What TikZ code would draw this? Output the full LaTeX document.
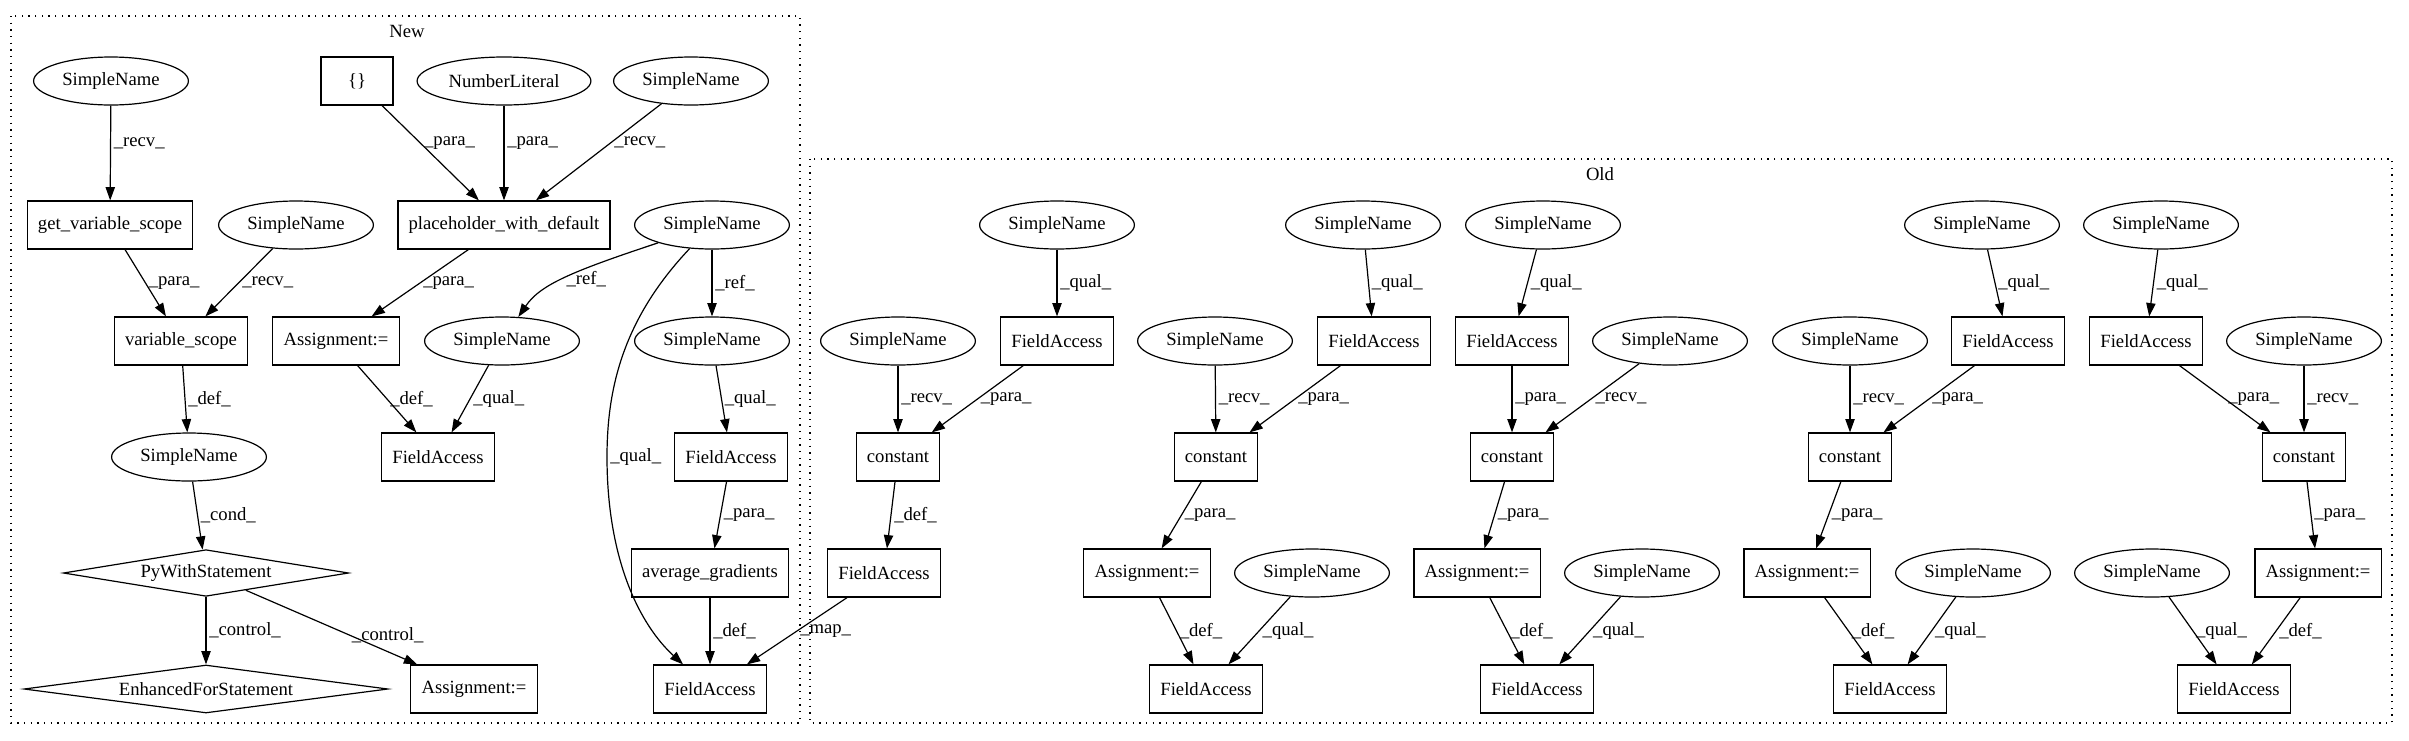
\documentclass[tikz,border=0pt]{standalone}
\usepackage{fontspec}
\setmainfont{Liberation Serif}
\usetikzlibrary{shapes.geometric,arrows.meta}

\begin{document}
\begin{tikzpicture}[x=0.75pt,y=-0.75pt,
    font=\fontsize{14}{16}\selectfont,
    box/.style={draw,rectangle,line width=0.9pt,minimum height=36pt,minimum width=54pt,inner xsep=8pt},
    ell/.style={draw,ellipse,line width=0.9pt,minimum height=36pt,inner xsep=4.5pt,inner ysep=2pt},
    stmt/.style={draw,diamond,line width=0.9pt,inner sep=0pt},
    conn/.style={-{Triangle[length=10pt,width=7pt]},line width=0.9pt},
    lbl/.style={midway,anchor=west,inner sep=2pt},
    cluster/.style={line width=0.9pt,dash pattern=on 1pt off 4pt}]

    \useasboundingbox (0,0) rectangle (2409,740);

    \draw[cluster] (11,16) rectangle (800,723);
    \node (lblNew) at (407,31) {New};
    \draw[cluster] (810,159) rectangle (2392,723);
    \node (lblOld) at (1600,174) {Old};

    \node[ell] (snGvs) at (111,81) {SimpleName};
    \node[box] (brace) at (357,81) {\{\}};
    \node[ell] (numLit) at (504,81) {NumberLiteral};
    \node[ell] (snPwd) at (691,81) {SimpleName};
    \node[box] (gvs) at (110,225) {get\_variable\_scope};
    \node[ell] (snVs) at (296,225) {SimpleName};
    \node[box] (pwd) at (504,225) {placeholder\_with\_default};
    \node[ell] (snRef) at (712,225) {SimpleName};
    \node[box] (vs) at (181,341) {variable\_scope};
    \node[box] (asgN) at (336,341) {Assignment:=};
    \node[ell] (snQa) at (502,341) {SimpleName};
    \node[ell] (snQb) at (712,341) {SimpleName};
    \node[ell] (snCond) at (189,457) {SimpleName};
    \node[box] (faN) at (438,457) {FieldAccess};
    \node[box] (faAvg) at (731,457) {FieldAccess};
    \node[stmt,aspect=6,minimum width=214pt,minimum height=35pt] (withSt) at (206,573) {PyWithStatement};
    \node[box] (avg) at (710,573) {average\_gradients};
    \node[stmt,aspect=7.6,minimum width=273pt,minimum height=36pt] (forSt) at (206,689) {EnhancedForStatement};
    \node[box] (asgCtl) at (474,689) {Assignment:=};
    \node[box] (faOut) at (710,689) {FieldAccess};

    \node[ell] (snTopA) at (1057,225) {SimpleName};
    \node[box] (faA) at (1057,341) {FieldAccess};
    \node[ell] (snRecvA) at (898,341) {SimpleName};
    \node[box] (constA) at (898,457) {constant};
    \node[box] (faDefA) at (884,573) {FieldAccess};

    \node[ell] (snTopB) at (1363,225) {SimpleName};
    \node[box] (faB) at (1374,341) {FieldAccess};
    \node[ell] (snRecvB) at (1215,341) {SimpleName};
    \node[box] (constB) at (1216,457) {constant};
    \node[box] (asgB) at (1147,573) {Assignment:=};
    \node[ell] (snQualB) at (1312,573) {SimpleName};
    \node[box] (faOutB) at (1206,689) {FieldAccess};

    \node[ell] (snTopC) at (1543,225) {SimpleName};
    \node[box] (faC) at (1512,341) {FieldAccess};
    \node[ell] (snRecvC) at (1670,341) {SimpleName};
    \node[box] (constC) at (1512,457) {constant};
    \node[box] (asgC) at (1477,573) {Assignment:=};
    \node[ell] (snQualC) at (1642,573) {SimpleName};
    \node[box] (faOutC) at (1537,689) {FieldAccess};

    \node[ell] (snTopD) at (1982,225) {SimpleName};
    \node[box] (faD) at (2008,341) {FieldAccess};
    \node[ell] (snRecvD) at (1850,341) {SimpleName};
    \node[box] (constD) at (1850,457) {constant};
    \node[box] (asgD) at (1807,573) {Assignment:=};
    \node[ell] (snQualD) at (1973,573) {SimpleName};
    \node[box] (faOutD) at (1890,689) {FieldAccess};

    \node[ell] (snTopE) at (2161,225) {SimpleName};
    \node[box] (faE) at (2146,341) {FieldAccess};
    \node[ell] (snRecvE) at (2304,341) {SimpleName};
    \node[box] (constE) at (2304,457) {constant};
    \node[box] (asgE) at (2318,573) {Assignment:=};
    \node[ell] (snQualE) at (2152,573) {SimpleName};
    \node[box] (faOutE) at (2234,689) {FieldAccess};

    \draw[conn] (snGvs) -- node[lbl,pos=0.4] {\_recv\_} (gvs);
    \draw[conn] (brace) -- node[lbl,pos=0.4] {\_para\_} (pwd);
    \draw[conn] (numLit) -- node[lbl,pos=0.4] {\_para\_} (pwd);
    \draw[conn] (snPwd) -- node[lbl,pos=0.4] {\_recv\_} (pwd);
    \draw[conn] (gvs) -- node[lbl] {\_para\_} (vs);
    \draw[conn] (snVs) -- node[lbl] {\_recv\_} (vs);
    \draw[conn] (pwd) -- node[lbl] {\_para\_} (asgN);
    \draw[conn] (snRef) .. controls (570,272) and (540,285) .. node[lbl] {\_ref\_} (snQa);
    \draw[conn] (snRef) -- node[lbl] {\_ref\_} (snQb);
    \draw[conn] (snRef) .. controls (622,320) and (607,390) .. (607,457) node[anchor=west,inner sep=2pt] {\_qual\_}
        .. controls (607,560) and (640,625) .. (faOut);
    \draw[conn] (vs) -- node[lbl] {\_def\_} (snCond);
    \draw[conn] (asgN) -- node[lbl] {\_def\_} (faN);
    \draw[conn] (snQa) -- node[lbl] {\_qual\_} (faN);
    \draw[conn] (snQb) -- node[lbl] {\_qual\_} (faAvg);
    \draw[conn] (snCond) -- node[lbl] {\_cond\_} (withSt);
    \draw[conn] (faAvg) -- node[lbl] {\_para\_} (avg);
    \draw[conn] (withSt) -- node[lbl] {\_control\_} (forSt);
    \draw[conn] (withSt) -- node[lbl,pos=0.6] {\_control\_} (asgCtl);
    \draw[conn] (avg) -- node[lbl] {\_def\_} (faOut);
    \draw[conn] (faDefA) -- node[lbl] {\_map\_} (faOut);

    \draw[conn] (snTopA) -- node[lbl] {\_qual\_} (faA);
    \draw[conn] (snRecvA) -- node[lbl] {\_recv\_} (constA);
    \draw[conn] (faA) -- node[lbl] {\_para\_} (constA);
    \draw[conn] (constA) -- node[lbl] {\_def\_} (faDefA);

    \draw[conn] (snTopB) -- node[lbl] {\_qual\_} (faB);
    \draw[conn] (snRecvB) -- node[lbl] {\_recv\_} (constB);
    \draw[conn] (faB) -- node[lbl] {\_para\_} (constB);
    \draw[conn] (constB) -- node[lbl] {\_para\_} (asgB);
    \draw[conn] (asgB) -- node[lbl] {\_def\_} (faOutB);
    \draw[conn] (snQualB) -- node[lbl] {\_qual\_} (faOutB);

    \draw[conn] (snTopC) -- node[lbl] {\_qual\_} (faC);
    \draw[conn] (snRecvC) -- node[lbl] {\_recv\_} (constC);
    \draw[conn] (faC) -- node[lbl] {\_para\_} (constC);
    \draw[conn] (constC) -- node[lbl] {\_para\_} (asgC);
    \draw[conn] (asgC) -- node[lbl] {\_def\_} (faOutC);
    \draw[conn] (snQualC) -- node[lbl] {\_qual\_} (faOutC);

    \draw[conn] (snTopD) -- node[lbl] {\_qual\_} (faD);
    \draw[conn] (snRecvD) -- node[lbl] {\_recv\_} (constD);
    \draw[conn] (faD) -- node[lbl] {\_para\_} (constD);
    \draw[conn] (constD) -- node[lbl] {\_para\_} (asgD);
    \draw[conn] (asgD) -- node[lbl] {\_def\_} (faOutD);
    \draw[conn] (snQualD) -- node[lbl] {\_qual\_} (faOutD);

    \draw[conn] (snTopE) -- node[lbl] {\_qual\_} (faE);
    \draw[conn] (snRecvE) -- node[lbl] {\_recv\_} (constE);
    \draw[conn] (faE) -- node[lbl] {\_para\_} (constE);
    \draw[conn] (constE) -- node[lbl] {\_para\_} (asgE);
    \draw[conn] (asgE) -- node[lbl] {\_def\_} (faOutE);
    \draw[conn] (snQualE) -- node[lbl] {\_qual\_} (faOutE);
\end{tikzpicture}
\end{document}
